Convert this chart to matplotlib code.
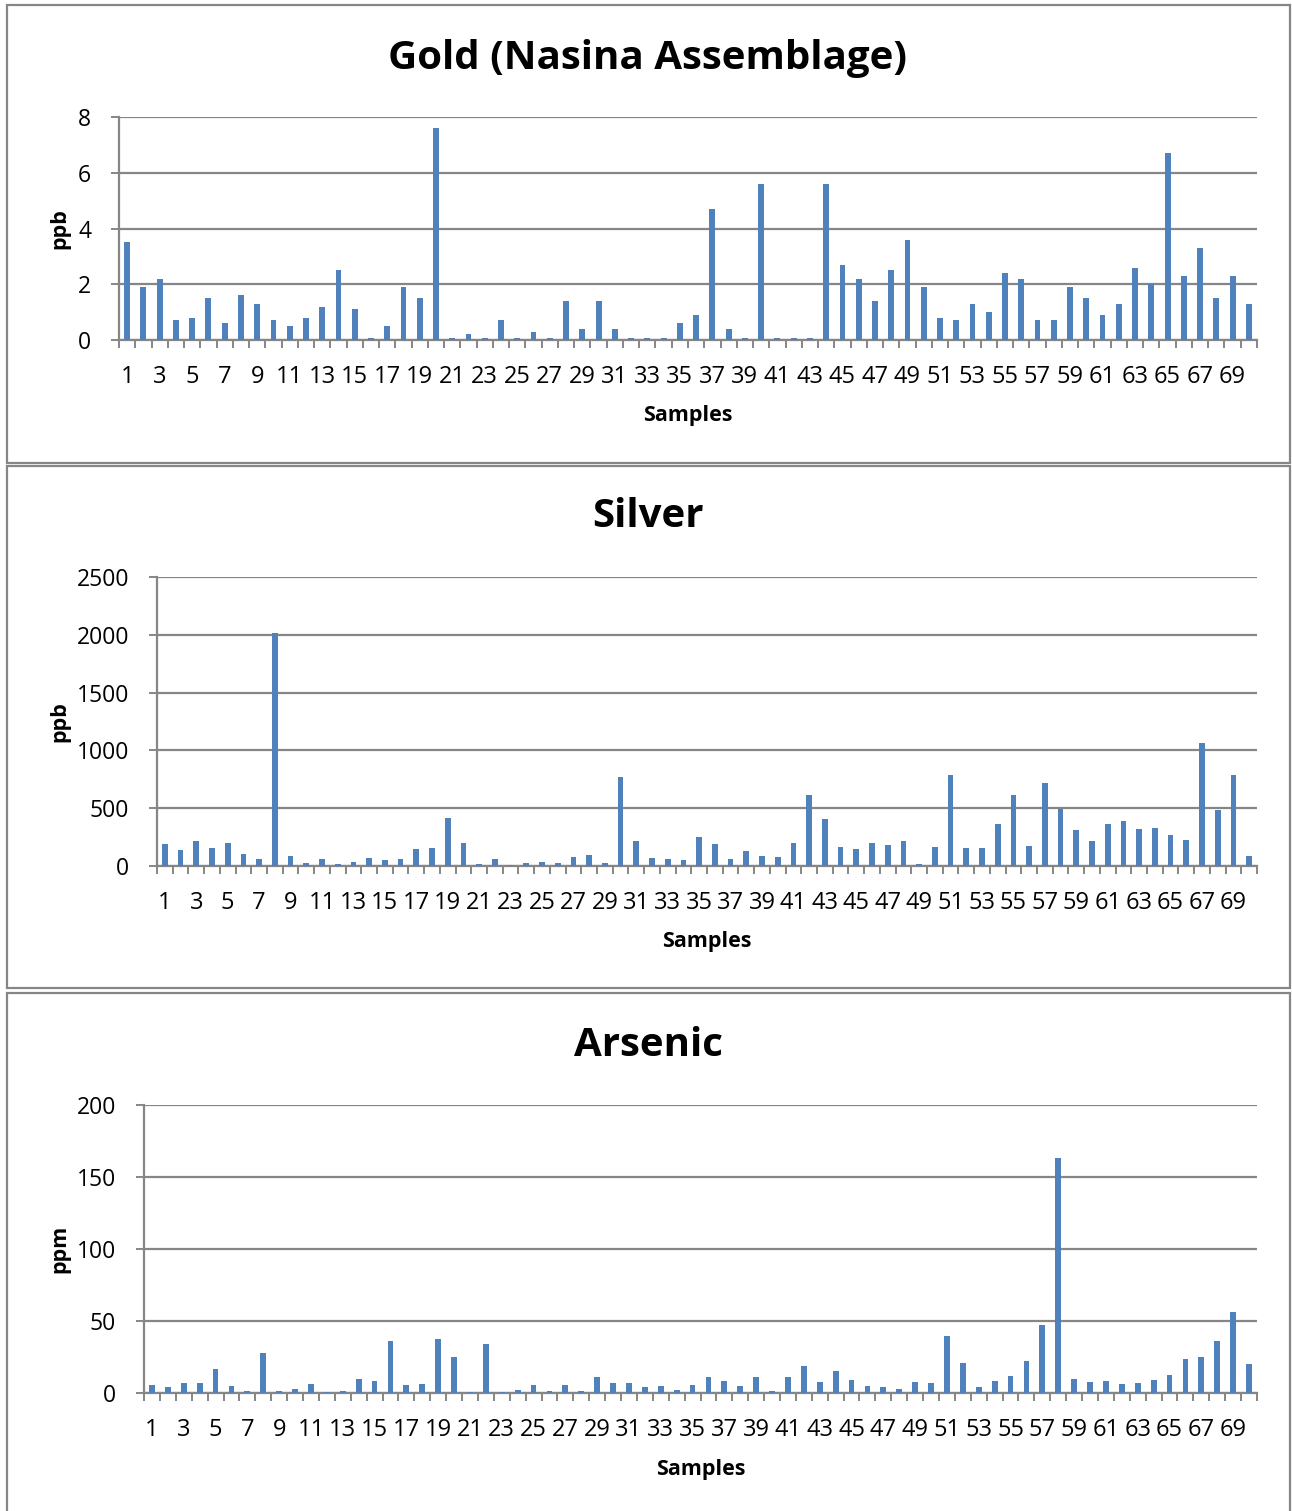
import matplotlib
matplotlib.use("Agg")
import matplotlib.pyplot as plt
from matplotlib.patches import Rectangle
import numpy as np

plt.rcParams['font.family'] = ['Open Sans', 'DejaVu Sans']

samples = list(range(1, 71))

gold = [3.5, 1.9, 2.2, 0.7, 0.8, 1.5, 0.6, 1.6, 1.3, 0.7,
        0.5, 0.8, 1.2, 2.5, 1.1, 0.06, 0.5, 1.9, 1.5, 7.6,
        0.06, 0.2, 0.06, 0.7, 0.06, 0.3, 0.06, 1.4, 0.4, 1.4,
        0.4, 0.06, 0.06, 0.06, 0.6, 0.9, 4.7, 0.4, 0.06, 5.6,
        0.06, 0.06, 0.06, 5.6, 2.7, 2.2, 1.4, 2.5, 3.6, 1.9,
        0.8, 0.7, 1.3, 1.0, 2.4, 2.2, 0.7, 0.7, 1.9, 1.5,
        0.9, 1.3, 2.6, 2.0, 6.7, 2.3, 3.3, 1.5, 2.3, 1.3]

silver = [193, 139, 219, 159, 202, 107, 61, 2012, 89, 29,
          61, 17, 38, 69, 49, 64, 150, 156, 416, 202,
          17, 61, 9, 29, 38, 26, 81, 92, 29, 774,
          217, 69, 64, 55, 251, 190, 64, 130, 84, 78,
          202, 612, 410, 165, 147, 202, 182, 219, 20, 167,
          788, 159, 156, 364, 618, 176, 722, 497, 312, 219,
          367, 387, 323, 329, 268, 228, 1068, 485, 785, 87]

arsenic = [5.3, 3.9, 6.7, 6.9, 16.4, 4.6, 1.6, 28.0, 1.6, 2.5,
           6.5, 0.9, 1.6, 9.9, 8.6, 36.3, 5.5, 6.5, 37.7, 25.2,
           0.9, 34.2, 0.9, 1.8, 5.3, 1.2, 5.8, 1.6, 11.1, 6.9,
           6.9, 3.9, 4.9, 2.3, 5.5, 10.9, 8.1, 5.1, 10.9, 1.2,
           11.3, 18.7, 7.4, 15.0, 9.2, 4.6, 4.4, 3.0, 7.6, 6.7,
           39.8, 21.0, 4.4, 8.6, 11.6, 22.4, 46.9, 163.2, 9.5, 7.4,
           8.6, 6.5, 7.2, 8.8, 12.7, 23.8, 25.2, 36.1, 56.2, 20.3]

titles = ["Gold (Nasina Assemblage)", "Silver", "Arsenic"]
units = ["ppb", "ppb", "ppm"]
ymax = [8, 2500, 200]
ystep = [2, 500, 50]

W, H = 1292, 1511
fig = plt.figure(figsize=(W / 100, H / 100), dpi=100)
fig.patch.set_facecolor("white")

gray = "#868686"
bar_color = "#4F81BD"

# panel boxes (x0, y0, x1, y1) in pixels from top-left
boxes = [(7, 5, 1290, 463), (7, 466, 1290, 988), (7, 993, 1290, 1520)]
# axes rectangles (left, top, right, bottom) in pixels
axrects = [(119, 117, 1257, 340), (157, 577, 1257, 866), (144, 1105, 1257, 1393)]
title_y = [58, 517, 1045]
xlabel_y = [415, 941, 1469]
ylabel_x = 60

for b in boxes:
    x0, y0, x1, y1 = b
    fig.patches.append(Rectangle((x0 / W, 1 - y1 / H), (x1 - x0) / W, (y1 - y0) / H,
                                 transform=fig.transFigure, fill=False,
                                 edgecolor=gray, linewidth=1.6))

for i, data in enumerate([gold, silver, arsenic]):
    l, t, r, bt = axrects[i]
    ax = fig.add_axes([l / W, 1 - bt / H, (r - l) / W, (bt - t) / H])
    ax.bar(samples, data, width=0.36, color=bar_color, zorder=3)
    ax.set_xlim(0.5, 70.5)
    ax.set_ylim(0, ymax[i])
    ax.set_yticks(np.arange(0, ymax[i] + 1, ystep[i]))
    ax.yaxis.grid(True, color=gray, linewidth=1.6, zorder=0)
    for s in ["top", "right"]:
        ax.spines[s].set_visible(False)
    for s in ["left", "bottom"]:
        ax.spines[s].set_color(gray)
        ax.spines[s].set_linewidth(1.6)
        ax.spines[s].set_zorder(2)
    # tick marks at category boundaries, labels on odd samples
    ax.set_xticks(np.arange(0.5, 71, 1))
    ax.set_xticklabels([])
    ax.set_xticks(samples[::2], minor=True)
    ax.set_xticklabels([str(s) for s in samples[::2]], minor=True, fontsize=17)
    ax.tick_params(axis="x", which="major", length=6, width=1.4, color=gray)
    ax.tick_params(axis="x", which="minor", length=0, pad=18)
    ax.tick_params(axis="y", length=6, width=1.4, color=gray, labelsize=16.5, pad=14)
    fig.text(((l + r) / 2) / W, 1 - xlabel_y[i] / H, "Samples", ha="center", va="center",
             fontsize=15.5, fontweight="bold")
    fig.text(ylabel_x / W, 1 - ((t + bt) / 2) / H, units[i], ha="center", va="center",
             rotation=90, fontsize=15.5, fontweight="bold")
    fig.text(648 / W, 1 - title_y[i] / H, titles[i], ha="center", va="center",
             fontsize=29, fontweight="bold")

fig.savefig("out.png", dpi=100)
